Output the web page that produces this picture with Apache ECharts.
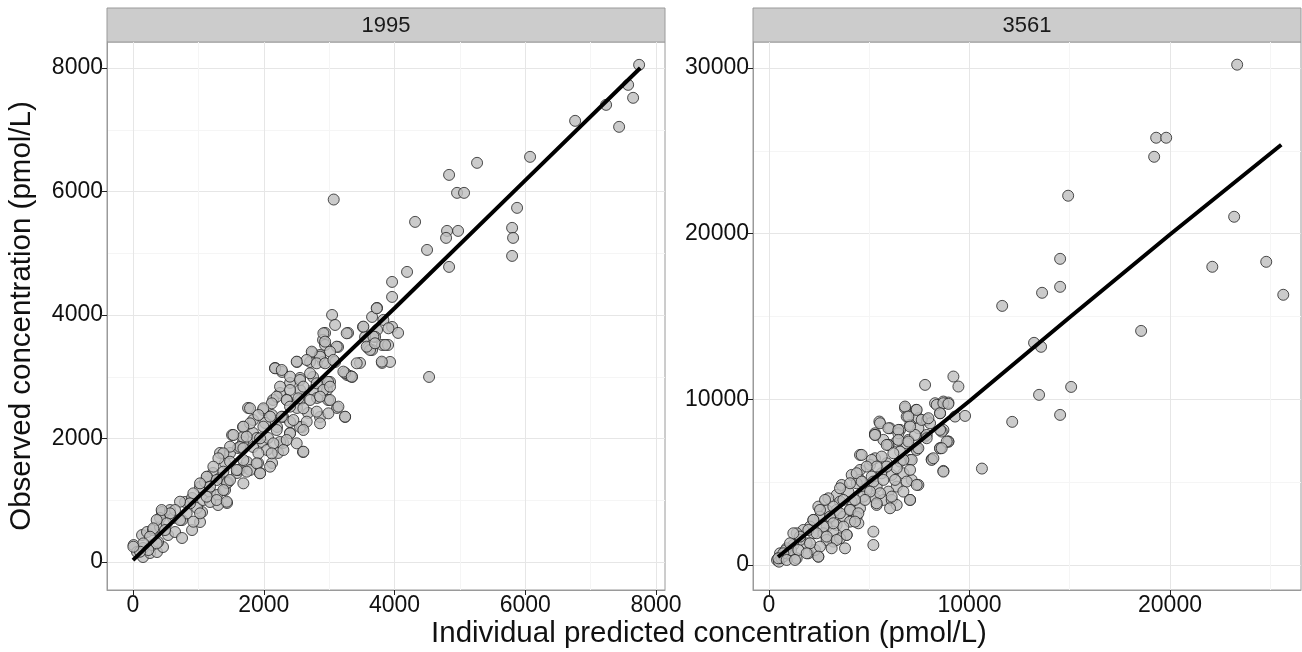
<!DOCTYPE html>
<html>
<head>
<meta charset="utf-8">
<script src="https://cdn.jsdelivr.net/npm/echarts@6/dist/echarts.min.js"></script>
<style>
  html, body { margin: 0; padding: 0; background: #ffffff; }
  #chart { width: 1302px; height: 652px; }
</style>
</head>
<body>
<div id="chart"></div>
<script>
// Panel (strip) titles
const panelTitles = ['1995', '3561'];

// Axis titles
const xTitle = 'Individual predicted concentration (pmol/L)';
const yTitle = 'Observed concentration (pmol/L)';

// Tick values
const ticksX1995 = [0, 2000, 4000, 6000, 8000];
const ticksY1995 = [0, 2000, 4000, 6000, 8000];
const minorX1995 = [1000, 3000, 5000, 7000];
const minorY1995 = [1000, 3000, 5000, 7000];
const ticksX3561 = [0, 10000, 20000];
const ticksY3561 = [0, 10000, 20000, 30000];
const minorX3561 = [5000, 15000, 25000];
const minorY3561 = [5000, 15000, 25000];

// Observed vs individual predicted, panel 1995: [IPRED, DV]
const obs1995 = [
  [10,275],[138,437],[214,486],[306,518],[413,567],[536,437],[643,486],[750,389],[903,518],[1025,648],
  [1056,810],[61,162],[153,81],[260,146],[367,162],[459,243],[153,227],[291,275],[383,324],[444,810],
  [566,842],[413,713],[612,713],[750,680],[796,972],[903,1037],[979,875],[1071,1004],[1178,1134],[1285,1085],
  [1408,1166],[1438,956],[1301,923],[1178,972],[1025,1215],[1102,1296],[1224,1442],[1331,1361],[1454,1296],[1591,1442],
  [1668,1523],[1408,1604],[1331,1766],[1484,1766],[1607,1847],[1683,1944],[1515,2057],[1683,2187],[1836,2090],[1974,1944],
  [2050,1814],[2127,1604],[1943,1442],[2219,1766],[2295,1928],[2402,2090],[2586,2187],[2601,1782],
  [3045,4001],[3091,3839],[3733,4115],[3963,4293],[3657,3969],[3519,3807],[3733,3758],[3963,3807],[4055,3710],[2938,3710],
  [2907,3596],[3137,3483],[3290,3710],[3596,3467],[3657,3434],[3810,3515],[3902,3515],[3810,3224],[3932,3240],[3473,3224],
  [2739,3386],[2861,3353],[2708,3240],[2509,3240],[2907,3240],[3091,3240],[2173,3143],[2280,3078],[3274,3029],[3351,2997],
  [3014,2916],[2754,2997],[2555,2981],[2402,2900],[2555,2786],[2754,2786],[2968,2786],[2249,2738],[2142,2624],[2356,2624],
  [2555,2624],[2815,2657],[2984,2624],[3121,2495],[3244,2349],[2861,2349],[2678,2414],[2509,2495],[1760,2495],[1989,2462],
  [2127,2381],[2295,2349],[2402,2268],[2555,2187],[2203,2187],[2020,2252],[1836,2300],[1683,2025],[1897,2009],[2066,2009],
  [2249,1944],[1637,1863],[1836,1863],[1744,1620],[1913,1604],[1607,1490],[1790,1490],[1132,1377],[1438,1280],
  [3070,5870],[4835,6269],[5263,6464],[4957,5978],[5064,5978],[5875,5735],[4315,5508],[4804,5362],[4973,5362],[4789,5249],
  [5799,5411],[5814,5249],[5799,4957],[4498,5054],[4192,4698],[3963,4536],[4835,4779],[3703,3645],[3550,3645],[3626,3434],
  [2938,3515],[3320,3013],[3244,3062],[2984,2916],[4529,2997],
  [7742,8051],[7574,7727],[7650,7517],[7237,7403],[7436,7047],[6763,7144],[6074,6561],
  [2912,3704],[2938,3569],[3269,3704],[3116,3488],[2861,3326],[3014,3407],[2734,3407],[2657,3272],[2810,3218],[2938,3218],
  [3065,3272],[3218,3083],[3346,3002],[3422,3218],[3524,3812],[3677,3650],[3728,4109],[3830,3920],[3575,3488],[3702,3542],
  [3805,3245],[3856,3515],[3907,3785],
  [2173,3137],[2275,3110],[2504,3245],[2402,3002],[2555,2948],[2708,3056],[2249,2840],[2402,2786],[2606,2840],[2810,2894],
  [2912,2786],[3014,2840],[2198,2678],[2351,2624],[2530,2651],[2708,2624],[2861,2678],[3014,2624],[3142,2516],[3244,2354],
  [2989,2408],[2810,2435],[2606,2489],[2402,2516],[2122,2570],[1994,2489],[1790,2489],[1918,2381],[2096,2354],[2275,2354],
  [2453,2300],[2657,2273],[2861,2246],[2606,2138],[2402,2084],[2198,2138],[1994,2192],[1790,2246],[1688,2192],[1535,2057],
  [1739,2030],[1943,2003],[2147,1922],[2351,1976],[2504,1922],[2606,1787],[2300,1814],[2122,1760],[1918,1760],[1688,1841],
  [1484,1868],[1382,1760],[1306,1679],[1484,1625],[1688,1652],[1892,1598],[2096,1544],[1943,1436],[1739,1463],[1586,1490],
  [1382,1463],[1229,1544],[1127,1382],[1280,1328],[1484,1328],[1688,1274],[1382,1166],[1178,1220],[1025,1274],[923,1112],
  [1127,1058],[1280,1004],[1433,977],[872,950],[719,977],[643,842],[821,788],[1025,788],[923,653],[719,680],
  [566,788],[438,842],[515,626],[362,680],[311,545],[490,518],[260,410],[158,302],[362,302],[234,194],
  [107,167],[5,248]
];

// Observed vs individual predicted, panel 3561: [IPRED, DV]
const obs3561 = [
  [23350,30200],[19310,25790],[19810,25790],[19210,24640],[14920,22290],[23200,21020],[14520,18480],[22110,18000],[24800,18300],[25650,16310],
  [14520,16790],[13620,16430],[11630,15640],[18560,14130],[13220,13410],[13570,13170],[15070,10750],[13470,10270],[14520,9060],[12130,8640],
  [10620,5820],
  [7784,10872],[9197,11376],[9447,10772],[6786,9463],[7335,9363],[6869,8960],[7451,8859],[7867,8759],[8282,9765],
  [8698,9866],[8948,9805],[8532,9161],[8698,8155],[9280,8960],[9779,9000],[5505,8658],[6037,8255],[6536,8155],[7035,8457],
  [7451,8255],[8033,8557],[5289,7953],[5705,7551],[6370,7450],[6952,7551],[7784,7752],[8948,7450],[8532,7048],[8116,6383],
  [8698,5679],[7401,7048],[5954,7249],[6536,6846],[7035,6343],
  [5288,7852],[5954,7248],[6452,7953],[6868,7349],[7284,7852],[7866,7852],[8614,8053],[8947,7449],[8531,7047],[7367,6946],
  [8115,6342],[8697,5638],[7118,6342],[6536,6242],[5870,6141],[5288,6443],[4540,6644],[5039,6040],[4540,5738],[4124,5437],
  [4540,5135],[5122,5336],[5621,5537],[6120,5437],[6702,5537],[7118,5135],[7450,4833],[6369,4732],[5954,4430],[5371,4732],
  [4872,4531],[4374,4933],[3626,4832],[3958,4430],[3376,4229],[2960,4027],[3542,3826],[4124,3826],[4706,4128],[5288,4027],
  [5704,3927],[6120,3927],[6369,3625],[7035,3927],[5371,3625],[4540,3424],[4041,3323],[3376,3323],[2877,3323],[2461,3524],
  [2544,2920],[3043,2820],[3709,2920],[4374,2920],[4457,2518],[4041,2618],[3376,2417],[2877,2316],[2212,2719],[2046,2316],
  [1713,2115],[1380,1914],[2212,1914],[2711,1914],[3210,2014],[3875,1813],[3210,1411],[3792,1008],[5205,2014],[5205,1209],
  [2461,504],[1879,1310],[1547,1511],[1214,1209],[881,1008],[549,706],[466,404],[1048,605],[1380,404],[1962,706],
  [2295,907],[2877,1511],[3542,1612],
  [400,300],[500,200],[620,420],[720,520],[900,700],[820,880],[1100,900],
  [6785,9564],[7367,9363],[6951,8961],[7616,8759],[7949,8860],[8365,9665],[8697,9766],[8947,9725],[8531,9162],[5538,8558],
  [5954,8256],[6452,8155],[7035,8357],[5288,7853],[5870,7249],[6452,7551],[6951,7451],[7450,7048],[7866,7652],[8531,8155],
  [8864,7451],[8614,7048],[8198,6444],[4623,6645],[5122,6344],[5621,6545],[6203,6746],[6702,6344],[7035,5740],[6369,5840],
  [5870,5941],[5371,5941],[4872,5941],[4374,5539],[4041,4935],[4623,5035],[5205,5035],[5704,5136],[6286,5136],[6868,5035],
  [7367,4834],[6702,4431],[6120,4129],[5538,4331],[5039,4431],[7035,3928],[6037,3425],[5371,3727],[4789,3928],[4290,3928],
  [3542,4633],[3708,3928],[3209,3526],[2794,3928],[2544,3324],[3043,2921],[3542,3123],[4041,3324],[4457,3123],[4290,2619],
  [3708,2318],[3209,2519],[2711,2318],[2212,2720],[1962,2116],[2378,1915],[2877,1714],[3376,1512],[3875,1814],[3126,1009],
  [2544,1110],[2045,1311],[1546,1714],[1214,1915],[1048,1311],[1463,908],[1879,707],[2461,506],[715,707],[465,405],
  [881,304],[1297,304]
];

// Fitted trend through each panel
const fit1995 = [[0,30],[2000,2080],[4000,4110],[6000,6180],[7760,8000]];
const fit3561 = [[450,480],[5000,5000],[10000,9900],[15000,14950],[20000,19950],[25550,25370]];

const FONT = 'Liberation Sans, Arial, sans-serif';
const panelBox = [
  { left: 107, top: 42, width: 558, height: 548 },
  { left: 753, top: 42, width: 548, height: 548 }
];
const ranges = [
  { x: [-398, 8138], y: [-453, 8421] },
  { x: [-798, 26534], y: [-1509, 31569] }
];

function mainAxis(dim, idx, ticks, name) {
  const r = ranges[idx][dim];
  return {
    gridIndex: idx, type: 'value', min: r[0], max: r[1],
    position: dim === 'x' ? 'bottom' : 'left',
    name: name || '', nameLocation: 'middle', nameGap: 70,
    nameTextStyle: { fontSize: 29.5, color: '#111', fontFamily: FONT },
    axisLine: { show: true, onZero: false, lineStyle: { color: '#9a9a9a', width: 1 } },
    axisTick: { show: true, length: 5, customValues: ticks, lineStyle: { color: '#222', width: 1 } },
    axisLabel: { customValues: ticks, fontSize: 23, color: '#111', fontFamily: FONT, margin: 4,
                 formatter: v => String(v) },
    splitLine: { show: true, lineStyle: { color: '#e6e6e6', width: 1 } }
  };
}
function minorAxis(dim, idx, ticks) {
  const r = ranges[idx][dim];
  return {
    gridIndex: idx, type: 'value', min: r[0], max: r[1],
    position: dim === 'x' ? 'top' : 'right',
    axisLine: { show: false },
    axisTick: { show: false, customValues: ticks },
    axisLabel: { show: false, customValues: ticks },
    splitLine: { show: true, lineStyle: { color: '#f5f5f5', width: 1 } }
  };
}

const pointStyle = { color: '#bebebe', borderColor: '#222', borderWidth: 1 };

const option = {
  animation: false,
  backgroundColor: '#ffffff',
  grid: panelBox.map(b => Object.assign({ show: true, borderColor: '#9a9a9a', borderWidth: 1, backgroundColor: '#fff' }, b)),
  xAxis: [
    mainAxis('x', 0, ticksX1995), minorAxis('x', 0, minorX1995),
    mainAxis('x', 1, ticksX3561), minorAxis('x', 1, minorX3561)
  ],
  yAxis: [
    mainAxis('y', 0, ticksY1995, yTitle), minorAxis('y', 0, minorY1995),
    mainAxis('y', 1, ticksY3561), minorAxis('y', 1, minorY3561)
  ],
  // x-axis title centred across both panels
  title: [{
    text: xTitle, left: 704, top: 614, textAlign: 'center',
    textStyle: { fontSize: 29.5, fontWeight: 'normal', color: '#111', fontFamily: FONT }
  }],
  graphic: panelBox.map((b, i) => ({
    type: 'group',
    children: [
      { type: 'rect', shape: { x: b.left, y: 8, width: b.width, height: 34 },
        style: { fill: '#cccccc', stroke: '#9a9a9a', lineWidth: 1 } },
      { type: 'text', x: b.left + b.width / 2, y: 26,
        style: { text: panelTitles[i], fontSize: 22, fill: '#1a1a1a', fontFamily: FONT,
                 align: 'center', verticalAlign: 'middle' } }
    ]
  })),
  series: [
    { type: 'scatter', xAxisIndex: 0, yAxisIndex: 0, data: obs1995, symbolSize: 11,
      itemStyle: pointStyle, z: 3 },
    { type: 'line', xAxisIndex: 0, yAxisIndex: 0, data: fit1995, showSymbol: false,
      lineStyle: { color: '#000', width: 4 }, z: 4 },
    { type: 'scatter', xAxisIndex: 2, yAxisIndex: 2, data: obs3561, symbolSize: 11,
      itemStyle: pointStyle, z: 3 },
    { type: 'line', xAxisIndex: 2, yAxisIndex: 2, data: fit3561, showSymbol: false,
      lineStyle: { color: '#000', width: 4 }, z: 4 }
  ]
};

const chart = echarts.init(document.getElementById('chart'), null, { renderer: 'canvas' });
chart.setOption(option);
</script>
</body>
</html>
